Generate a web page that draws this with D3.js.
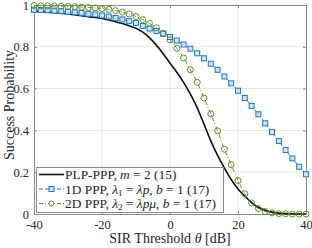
<!DOCTYPE html>
<html>
<head>
<meta charset="utf-8">
<script src="https://cdn.jsdelivr.net/npm/d3@7"></script>
<style>
  html, body { margin: 0; padding: 0; background: #fff; }
  svg text { font-family: "Liberation Serif", "Times New Roman", serif; fill: #262626; }
</style>
</head>
<body>
<script>
// SIR threshold in dB, one marker every 2 dB
var theta = d3.range(-40, 41, 2);

// PLP-PPP, m = 2 (15)
var plpPpp = [0.970, 0.968, 0.966, 0.963, 0.960, 0.957, 0.953, 0.949, 0.944, 0.940,
              0.935, 0.928, 0.920, 0.911, 0.901, 0.889, 0.870, 0.843, 0.808, 0.767,
              0.722, 0.678, 0.630, 0.573, 0.508, 0.430, 0.350, 0.280, 0.220, 0.165,
              0.120, 0.085, 0.055, 0.032, 0.018, 0.009, 0.004, 0.002, 0.001, 0.000, 0.000];

// 1D PPP, lambda1 = lambda p, b = 1 (17)
var ppp1d = [0.977, 0.976, 0.975, 0.973, 0.971, 0.968, 0.965, 0.962, 0.958, 0.955,
             0.950, 0.945, 0.938, 0.931, 0.923, 0.914, 0.900, 0.887, 0.876, 0.862,
             0.847, 0.830, 0.811, 0.791, 0.769, 0.745, 0.719, 0.690, 0.658, 0.625,
             0.590, 0.555, 0.517, 0.477, 0.434, 0.392, 0.349, 0.306, 0.266, 0.226, 0.190];

// 2D PPP, lambda2 = lambda p mu, b = 1 (17)
var ppp2d = [0.997, 0.996, 0.996, 0.995, 0.994, 0.993, 0.992, 0.990, 0.988, 0.986,
             0.983, 0.979, 0.973, 0.966, 0.957, 0.945, 0.930, 0.912, 0.891, 0.865,
             0.833, 0.793, 0.747, 0.690, 0.630, 0.555, 0.479, 0.398, 0.310, 0.236,
             0.160, 0.097, 0.053, 0.026, 0.012, 0.005, 0.002, 0.001, 0.000, 0.000, 0.000];

var xTicks = [-40, -20, 0, 20, 40];
var xTickLabels = ["-40", "-20", "0", "20", "40"];
var yTicks = [0, 0.2, 0.4, 0.6, 0.8, 1];
var yTickLabels = ["0", "0.2", "0.4", "0.6", "0.8", "1"];

(function() {
var W = 312, H = 248;
var pL = 34, pR = 306, pT = 5, pB = 214;
var axisCol = "#8a8a8a", gridCol = "#e6e6e6";
var blue = "#1f78c8", blueFill = "#cfe3f5", green = "#5f8f2f";

var svg = d3.select("body").append("svg")
    .attr("width", W)
    .attr("height", H);

var x = d3.scaleLinear().domain([-40, 40]).range([pL, pR]);
var y = d3.scaleLinear().domain([0, 1]).range([pB, pT]);

// grid
svg.append("g").selectAll("line")
   .data(xTicks.slice(1, -1))
   .enter().append("line")
   .attr("x1", function(d) { return x(d); })
   .attr("x2", function(d) { return x(d); })
   .attr("y1", pT).attr("y2", pB)
   .style("stroke", gridCol).style("stroke-width", 1);

svg.append("g").selectAll("line")
   .data(yTicks.slice(1, -1))
   .enter().append("line")
   .attr("x1", pL).attr("x2", pR)
   .attr("y1", function(d) { return y(d); })
   .attr("y2", function(d) { return y(d); })
   .style("stroke", gridCol).style("stroke-width", 1);

// axes (ticks inward)
var gx = svg.append("g").attr("transform", "translate(0," + pB + ")")
    .call(d3.axisBottom(x).tickValues(xTicks).tickSizeInner(-3).tickSizeOuter(0).tickPadding(6)
          .tickFormat(function(d, i) { return xTickLabels[i]; }));
var gxTop = svg.append("g").attr("transform", "translate(0," + pT + ")")
    .call(d3.axisTop(x).tickValues(xTicks).tickSizeInner(-3).tickSizeOuter(0).tickFormat(""));
var gy = svg.append("g").attr("transform", "translate(" + pL + ",0)")
    .call(d3.axisLeft(y).tickValues(yTicks).tickSizeInner(-3).tickSizeOuter(0).tickPadding(5)
          .tickFormat(function(d, i) { return yTickLabels[i]; }));
var gyRight = svg.append("g").attr("transform", "translate(" + pR + ",0)")
    .call(d3.axisRight(y).tickValues(yTicks).tickSizeInner(-3).tickSizeOuter(0).tickFormat(""));

[gx, gxTop, gy, gyRight].forEach(function(g) {
  g.attr("font-family", null).attr("font-size", null);
  g.selectAll("path.domain").style("stroke", axisCol);
  g.selectAll(".tick line").style("stroke", axisCol);
  g.selectAll("text").style("font-size", "12.5px").style("fill", "#262626");
});

// curves
var line = function(vals) {
  return d3.line()
    .x(function(d, i) { return x(theta[i]); })
    .y(function(d) { return y(d); })
    .curve(d3.curveMonotoneX)(vals);
};

svg.append("path").attr("d", line(ppp2d))
   .attr("fill", "none").style("stroke", green).style("stroke-width", 1)
   .style("stroke-dasharray", "4,2,1,2");

svg.append("path").attr("d", line(ppp1d))
   .attr("fill", "none").style("stroke", blue).style("stroke-width", 1)
   .style("stroke-dasharray", "4,2");

svg.append("path").attr("d", line(plpPpp))
   .attr("fill", "none").style("stroke", "#111").style("stroke-width", 1.6);

svg.append("g").selectAll("rect")
   .data(ppp1d).enter().append("rect")
   .attr("x", function(d, i) { return x(theta[i]) - 2.5; })
   .attr("y", function(d) { return y(d) - 2.5; })
   .attr("width", 5).attr("height", 5)
   .attr("fill", blueFill).style("stroke", blue).style("stroke-width", 1);

svg.append("g").selectAll("circle")
   .data(ppp2d).enter().append("circle")
   .attr("cx", function(d, i) { return x(theta[i]); })
   .attr("cy", function(d) { return y(d); })
   .attr("r", 3)
   .attr("fill", "none").style("stroke", green).style("stroke-width", 1);

// legend
var lg = svg.append("g");
lg.append("rect").attr("x", 36.5).attr("y", 167.5).attr("width", 187).attr("height", 45)
  .attr("fill", "#fff").style("stroke", axisCol).style("stroke-width", 1);

var rows = [174.5, 189, 203.5];
lg.append("line").attr("x1", 39).attr("x2", 64).attr("y1", rows[0]).attr("y2", rows[0])
  .style("stroke", "#111").style("stroke-width", 1.6);
lg.append("line").attr("x1", 39).attr("x2", 64).attr("y1", rows[1]).attr("y2", rows[1])
  .style("stroke", blue).style("stroke-dasharray", "4,2");
lg.append("rect").attr("x", 49).attr("y", rows[1] - 2.5).attr("width", 5).attr("height", 5)
  .attr("fill", blueFill).style("stroke", blue);
lg.append("line").attr("x1", 39).attr("x2", 64).attr("y1", rows[2]).attr("y2", rows[2])
  .style("stroke", green).style("stroke-dasharray", "4,2,1,2");
lg.append("circle").attr("cx", 51.5).attr("cy", rows[2]).attr("r", 2.5)
  .attr("fill", "#fff").style("stroke", green);

var eq = " = ";
var lt = function(yy) {
  return lg.append("text").attr("x", 65).attr("y", yy + 4.5).style("font-size", "13.4px");
};
var t1 = lt(rows[0]);
t1.append("tspan").text("PLP-PPP, ");
t1.append("tspan").style("font-style", "italic").text("m");
t1.append("tspan").text(eq + "2 (15)");

var t2 = lt(rows[1]);
t2.append("tspan").text("1D PPP, ");
t2.append("tspan").style("font-style", "italic").text("λ");
t2.append("tspan").attr("dy", 2).style("font-size", "9px").text("1");
t2.append("tspan").attr("dy", -2).text(eq);
t2.append("tspan").style("font-style", "italic").text("λp");
t2.append("tspan").text(", ");
t2.append("tspan").style("font-style", "italic").text("b");
t2.append("tspan").text(eq + "1 (17)");

var t3 = lt(rows[2]);
t3.append("tspan").text("2D PPP, ");
t3.append("tspan").style("font-style", "italic").text("λ");
t3.append("tspan").attr("dy", 2).style("font-size", "9px").text("2");
t3.append("tspan").attr("dy", -2).text(eq);
t3.append("tspan").style("font-style", "italic").text("λpμ");
t3.append("tspan").text(", ");
t3.append("tspan").style("font-style", "italic").text("b");
t3.append("tspan").text(eq + "1 (17)");

// axis titles
var xl = svg.append("text").attr("x", 170).attr("y", 243)
   .attr("text-anchor", "middle").style("font-size", "14px");
xl.append("tspan").text("SIR Threshold ");
xl.append("tspan").style("font-style", "italic").text("θ");
xl.append("tspan").text(" [dB]");

svg.append("text")
   .attr("transform", "translate(14,105) rotate(-90)")
   .attr("text-anchor", "middle").style("font-size", "14px")
   .text("Success Probability");
})();
</script>
</body>
</html>
